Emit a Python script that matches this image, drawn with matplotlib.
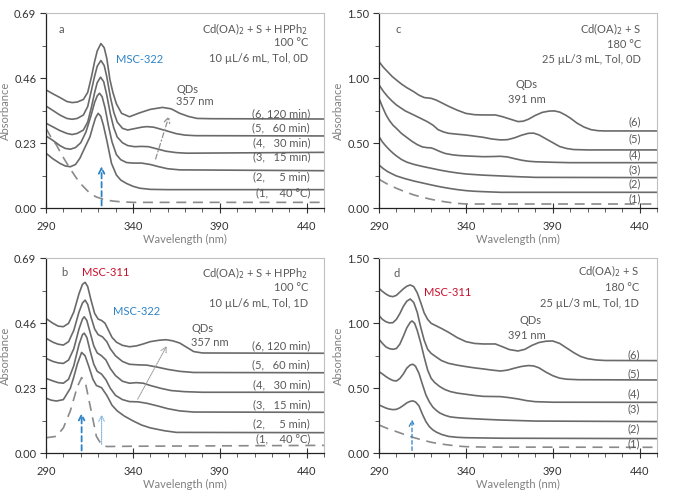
import matplotlib
matplotlib.use("Agg")
import matplotlib.pyplot as plt
from matplotlib.ticker import MultipleLocator, FixedLocator

plt.rcParams['font.family'] = ['Lato', 'DejaVu Sans']

# ---------------- data: panel a ----------------
a1_x = [290, 293, 296, 299, 302, 305, 307.6, 311, 315.3, 319, 323, 328, 333, 340, 450]
a1_y = [0.283, 0.25, 0.224, 0.19, 0.159, 0.13, 0.106, 0.08, 0.053, 0.04, 0.032, 0.026, 0.023, 0.021, 0.021]
a2_x = [290, 294, 298, 301, 304, 307, 309.5, 312, 315.3, 317, 318.5, 320, 321.5, 323, 325, 327.7, 330.5, 333, 336.3, 340, 344, 350, 360, 450]
a2_y = [0.195, 0.175, 0.159, 0.15, 0.147, 0.155, 0.177, 0.21, 0.253, 0.29, 0.32, 0.336, 0.326, 0.295, 0.24, 0.159, 0.118, 0.1, 0.088, 0.078, 0.071, 0.067, 0.066, 0.066]
a3_x = [290, 294, 298, 301, 304, 307, 310, 313, 316, 318, 319.5, 320.8, 322.3, 324, 326, 328, 330.5, 333, 336.3, 340, 345, 350, 355, 360, 367, 450]
a3_y = [0.256, 0.24, 0.222, 0.212, 0.209, 0.215, 0.232, 0.27, 0.33, 0.375, 0.398, 0.407, 0.395, 0.355, 0.29, 0.235, 0.19, 0.172, 0.162, 0.16, 0.16, 0.155, 0.147, 0.14, 0.136, 0.133]
a4_x = [290, 294, 298, 302, 305, 308, 311.5, 314, 316.2, 318, 319.5, 321.4, 323.2, 325, 327, 329, 331, 334, 337, 341, 345, 349, 354, 359, 365, 371, 450]
a4_y = [0.301, 0.288, 0.275, 0.265, 0.261, 0.265, 0.277, 0.305, 0.359, 0.41, 0.445, 0.464, 0.448, 0.40, 0.335, 0.285, 0.252, 0.232, 0.222, 0.218, 0.219, 0.218, 0.21, 0.202, 0.197, 0.195, 0.198]
a5_x = [290, 294, 298, 302, 305, 308, 311.5, 314, 316.2, 318, 319.5, 321.6, 323.5, 325, 327, 329, 331, 334, 337, 341, 345, 348, 352, 356, 360, 365, 370, 376, 450]
a5_y = [0.362, 0.346, 0.330, 0.318, 0.315, 0.318, 0.33, 0.36, 0.419, 0.468, 0.503, 0.523, 0.505, 0.465, 0.395, 0.34, 0.305, 0.283, 0.277, 0.282, 0.287, 0.289, 0.287, 0.280, 0.273, 0.264, 0.259, 0.257, 0.256]
a6_x = [290, 294, 298, 302, 305, 308, 311.5, 314, 316.2, 318, 319.5, 321.6, 323.5, 325, 326.8, 328.5, 330.5, 333.5, 338, 344, 350, 357, 362, 367, 372, 377, 385, 450]
a6_y = [0.419, 0.405, 0.392, 0.378, 0.374, 0.376, 0.385, 0.41, 0.466, 0.52, 0.557, 0.583, 0.568, 0.53, 0.455, 0.41, 0.37, 0.336, 0.324, 0.338, 0.35, 0.357, 0.352, 0.336, 0.325, 0.318, 0.317, 0.316]

# ---------------- data: panel b ----------------
b1_x = [290, 296, 300, 304, 308, 310.5, 313, 316, 319, 322, 325, 340, 450]
b1_y = [0.055, 0.06, 0.09, 0.15, 0.235, 0.268, 0.24, 0.15, 0.06, 0.03, 0.024, 0.025, 0.028]
b2_x = [290, 293, 296, 300, 304, 306, 308, 310.5, 312.5, 314.5, 317, 319, 322, 325, 328, 331, 335, 340, 345, 350, 358, 365, 450]
b2_y = [0.195, 0.188, 0.185, 0.19, 0.23, 0.27, 0.315, 0.357, 0.345, 0.31, 0.262, 0.24, 0.232, 0.205, 0.17, 0.15, 0.132, 0.115, 0.1, 0.09, 0.08, 0.074, 0.073]
b3_x = [290, 294, 297, 300, 303, 306, 309, 311, 312, 313.5, 315.5, 317.5, 319.5, 322, 324.5, 327, 330, 334, 338, 343, 348, 354, 360, 367, 375, 450]
b3_y = [0.265, 0.256, 0.25, 0.248, 0.262, 0.31, 0.385, 0.42, 0.425, 0.41, 0.36, 0.315, 0.29, 0.28, 0.26, 0.23, 0.205, 0.19, 0.183, 0.182, 0.177, 0.168, 0.158, 0.15, 0.146, 0.145]
b4_x = [290, 294, 297, 300, 303, 306, 309, 311, 312, 313.5, 315.5, 317.5, 319.5, 322, 324.5, 327, 330, 334, 338, 342, 346, 350, 356, 362, 370, 380, 450]
b4_y = [0.336, 0.325, 0.32, 0.318, 0.33, 0.37, 0.44, 0.475, 0.483, 0.47, 0.425, 0.38, 0.355, 0.345, 0.33, 0.30, 0.275, 0.255, 0.248, 0.25, 0.248, 0.24, 0.23, 0.222, 0.218, 0.216, 0.216]
b5_x = [290, 294, 297, 300, 303, 306, 309, 311, 312.5, 314, 316, 318, 320, 322.5, 325, 327, 330, 334, 338, 343, 348, 354, 360, 367, 375, 450]
b5_y = [0.407, 0.393, 0.386, 0.383, 0.395, 0.435, 0.50, 0.532, 0.542, 0.527, 0.48, 0.44, 0.42, 0.412, 0.395, 0.37, 0.345, 0.325, 0.315, 0.313, 0.312, 0.305, 0.297, 0.29, 0.286, 0.285]
b6_x = [290, 294, 297, 300, 303, 306, 309, 311, 312.5, 314, 316, 318, 320, 322, 324, 326, 328, 330.6, 334, 338, 342, 346, 350, 355, 359, 363, 367, 371, 375, 380, 450]
b6_y = [0.477, 0.46, 0.45, 0.448, 0.46, 0.50, 0.565, 0.598, 0.605, 0.59, 0.54, 0.495, 0.475, 0.47, 0.46, 0.435, 0.41, 0.393, 0.382, 0.377, 0.38, 0.387, 0.395, 0.40, 0.402, 0.398, 0.39, 0.375, 0.36, 0.355, 0.354]

# ---------------- data: panel c ----------------
c1_x = [290, 295, 300, 305, 310, 315, 320, 325, 330, 335, 340, 450]
c1_y = [0.223, 0.185, 0.154, 0.127, 0.103, 0.085, 0.069, 0.056, 0.046, 0.038, 0.033, 0.033]
c2_x = [290, 292.5, 295, 297.5, 300, 305, 310, 315, 320, 325, 330, 335, 340, 345, 350, 360, 450]
c2_y = [0.333, 0.305, 0.282, 0.265, 0.249, 0.228, 0.21, 0.195, 0.18, 0.166, 0.154, 0.144, 0.136, 0.131, 0.128, 0.123, 0.123]
c3_x = [290, 292, 294, 296, 298, 300, 303, 306, 310, 315, 320, 325, 330, 335, 340, 350, 360, 370, 380, 450]
c3_y = [0.551, 0.51, 0.478, 0.45, 0.425, 0.403, 0.375, 0.355, 0.338, 0.322, 0.308, 0.294, 0.282, 0.272, 0.264, 0.255, 0.249, 0.243, 0.238, 0.236]
c4_x = [290, 292, 294, 296, 298, 300, 303, 306, 309, 312, 315, 318, 320, 322, 325, 328, 332, 336, 340, 345, 350, 355, 360, 364, 368, 372, 376, 380, 390, 400, 450]
c4_y = [0.846, 0.78, 0.72, 0.675, 0.64, 0.615, 0.575, 0.545, 0.515, 0.49, 0.472, 0.466, 0.465, 0.455, 0.437, 0.422, 0.412, 0.406, 0.403, 0.4, 0.397, 0.398, 0.4, 0.395, 0.382, 0.37, 0.362, 0.358, 0.354, 0.351, 0.351]
c5_x = [290, 292.5, 295, 297.5, 300, 305, 310, 315, 318, 321, 324, 327, 330, 335, 340, 345, 350, 355, 360, 364, 368, 372, 376, 379, 382, 386, 390, 394, 398, 402, 410, 450]
c5_y = [0.949, 0.9, 0.859, 0.825, 0.795, 0.75, 0.718, 0.685, 0.665, 0.64, 0.605, 0.588, 0.577, 0.57, 0.564, 0.555, 0.546, 0.533, 0.526, 0.528, 0.542, 0.562, 0.577, 0.578, 0.565, 0.535, 0.505, 0.475, 0.46, 0.452, 0.449, 0.449]
c6_x = [290, 292.5, 295, 297.5, 300, 303, 306, 310, 313, 316, 320, 323, 326, 330, 335, 340, 345, 350, 357, 361, 365, 370, 373, 376, 380, 384, 388, 391, 394, 397, 400, 404, 408, 412, 416, 420, 450]
c6_y = [1.128, 1.085, 1.05, 1.015, 0.987, 0.955, 0.928, 0.897, 0.87, 0.852, 0.846, 0.832, 0.812, 0.785, 0.755, 0.73, 0.72, 0.718, 0.718, 0.705, 0.688, 0.667, 0.67, 0.685, 0.715, 0.738, 0.748, 0.749, 0.74, 0.72, 0.695, 0.655, 0.625, 0.605, 0.597, 0.595, 0.595]

# ---------------- data: panel d ----------------
d1_x = [290, 295, 300, 305, 310, 315, 320, 325, 330, 335, 340, 350, 450]
d1_y = [0.218, 0.19, 0.167, 0.143, 0.121, 0.102, 0.085, 0.073, 0.064, 0.056, 0.051, 0.048, 0.046]
d2_x = [290, 292, 294, 296, 298, 300, 302, 304, 306, 308, 309.5, 311, 313, 315, 317, 319, 321, 323, 326, 330, 335, 340, 360, 450]
d2_y = [0.372, 0.36, 0.348, 0.34, 0.336, 0.338, 0.35, 0.368, 0.388, 0.4, 0.403, 0.395, 0.365, 0.3, 0.244, 0.205, 0.18, 0.163, 0.145, 0.13, 0.123, 0.12, 0.116, 0.113]
d3_x = [290, 292, 294, 296, 298, 300, 302, 304, 306, 308, 309.5, 311, 313, 315, 317, 319, 321, 323, 325, 328, 331, 335, 340, 350, 360, 380, 450]
d3_y = [0.628, 0.61, 0.59, 0.573, 0.56, 0.556, 0.575, 0.61, 0.655, 0.68, 0.685, 0.67, 0.615, 0.53, 0.449, 0.395, 0.355, 0.33, 0.31, 0.292, 0.28, 0.274, 0.269, 0.262, 0.256, 0.248, 0.244]
d4_x = [290, 292, 294, 296, 298, 300, 302, 304, 306, 308, 309, 310.5, 312, 314, 316, 318, 320, 322, 325, 328, 331, 335, 340, 345, 350, 355, 360, 365, 370, 375, 380, 390, 450]
d4_y = [0.877, 0.845, 0.818, 0.805, 0.8, 0.806, 0.84, 0.9, 0.965, 1.008, 1.018, 1.0, 0.945, 0.85, 0.74, 0.64, 0.577, 0.545, 0.513, 0.49, 0.475, 0.463, 0.454, 0.445, 0.438, 0.437, 0.436, 0.428, 0.418, 0.405, 0.397, 0.393, 0.392]
d5_x = [290, 292, 294, 296, 298, 300, 302, 304, 306, 308, 310, 312, 314, 316, 318, 320, 323, 326, 330, 335, 340, 345, 350, 355, 360, 364, 368, 372, 376, 379, 382, 386, 390, 394, 398, 405, 450]
d5_y = [1.059, 1.03, 1.012, 1.003, 1.005, 1.03, 1.075, 1.13, 1.17, 1.187, 1.16, 1.085, 0.97, 0.87, 0.8, 0.769, 0.74, 0.713, 0.692, 0.678, 0.667, 0.657, 0.649, 0.64, 0.633, 0.64, 0.655, 0.668, 0.675, 0.672, 0.658, 0.625, 0.597, 0.578, 0.57, 0.566, 0.564]
d6_x = [290, 292, 294, 296, 298, 300, 302, 304, 306, 308, 310, 312, 314, 316, 318, 320, 323, 326, 330, 335, 340, 345, 350, 357, 361, 365, 370, 374, 378, 382, 386, 390, 394, 398, 402, 406, 410, 415, 420, 450]
d6_y = [1.269, 1.245, 1.225, 1.21, 1.205, 1.215, 1.24, 1.265, 1.285, 1.295, 1.282, 1.235, 1.16, 1.08, 1.03, 1.0, 0.98, 0.96, 0.931, 0.89, 0.859, 0.845, 0.841, 0.841, 0.82, 0.798, 0.787, 0.8, 0.83, 0.852, 0.862, 0.864, 0.845, 0.81, 0.775, 0.745, 0.728, 0.718, 0.714, 0.713]

# ---------------- text / ticks ----------------
x_ticks = [290, 340, 390, 440]
y_ticks_ab = [0.00, 0.23, 0.46, 0.69]
y_ticks_cd = [0.00, 0.50, 1.00, 1.50]
labels_ab = ['(6, 120 min)', '(5,   60 min)', '(4,   30 min)', '(3,   15 min)', '(2,     5 min)', '(1,    40 °C)']
labels_cd = ['(6)', '(5)', '(4)', '(3)', '(2)', '(1)']

LINE = '#6a6a6a'
DASH = '#8a8a8a'
TXT = '#595959'
BLUE = '#2e83c6'
RED = '#c8102e'
FS = 8

fig = plt.figure(figsize=(6.73, 4.94), dpi=100)
W, H = 673, 494

def make_ax(l, r, t, b):
    return fig.add_axes([l / W, 1 - b / H, (r - l) / W, (b - t) / H])

ax_a = make_ax(46, 324, 13.3, 208.3)
ax_c = make_ax(379, 657, 13.3, 208.3)
ax_b = make_ax(46, 324, 258.3, 453.3)
ax_d = make_ax(379, 657, 258.3, 453.3)

def style(ax, yt, ylim):
    ax.set_xlim(290, 450)
    ax.set_ylim(*ylim)
    ax.set_xticks(x_ticks)
    ax.xaxis.set_minor_locator(MultipleLocator(10))
    ax.set_yticks(yt)
    ax.set_yticklabels(['%.2f' % v for v in yt])
    step = yt[1] - yt[0]
    ax.yaxis.set_minor_locator(FixedLocator([v + step / 2 for v in yt[:-1]]))
    ax.tick_params(axis='x', which='major', direction='inout', length=7, width=0.8,
                   colors='#333333', labelsize=8, pad=6)
    ax.tick_params(axis='x', which='minor', direction='out', length=3, width=0.6, colors='#444444')
    ax.tick_params(axis='y', which='major', direction='out', length=4, width=0.8,
                   colors='#333333', labelsize=8, pad=3)
    ax.tick_params(axis='y', which='minor', direction='out', length=3, width=0.6, colors='#444444')
    for s in ['top', 'right']:
        ax.spines[s].set_color('#c0c0c0')
        ax.spines[s].set_linewidth(0.8)
    for s in ['left', 'bottom']:
        ax.spines[s].set_color('#222222')
        ax.spines[s].set_linewidth(0.9)
    ax.set_xlabel('Wavelength (nm)', color='#808080', fontsize=8, labelpad=1)
    ax.set_ylabel('Absorbance', color='#808080', fontsize=8, labelpad=2)

def curves(ax, xs, ys):
    for i, (x, y) in enumerate(zip(xs, ys)):
        if i == 0:
            ax.plot(x, y, color=DASH, lw=1.2, ls=(0, (6, 4)))
        else:
            ax.plot(x, y, color=LINE, lw=1.2, solid_joinstyle='round')

# panel a
style(ax_a, y_ticks_ab, (0, 0.69))
curves(ax_a, [a1_x, a2_x, a3_x, a4_x, a5_x, a6_x], [a1_y, a2_y, a3_y, a4_y, a5_y, a6_y])
ax_a.text(299, 0.633, 'a', color=TXT, fontsize=FS, va='center', ha='center')
ax_a.text(441, 0.633, 'Cd(OA)$_2$ + S + HPPh$_2$', color=TXT, fontsize=FS, ha='right', va='center')
ax_a.text(441, 0.586, '100 °C', color=TXT, fontsize=FS, ha='right', va='center')
ax_a.text(441, 0.530, '10 µL/6 mL, Tol, 0D', color=TXT, fontsize=FS, ha='right', va='center')
ax_a.text(330.5, 0.527, 'MSC-322', color=BLUE, fontsize=FS, ha='left', va='center')
ax_a.text(365, 0.421, 'QDs', color=TXT, fontsize=FS, ha='left', va='center')
ax_a.text(365, 0.377, '357 nm', color=TXT, fontsize=FS, ha='left', va='center')
for lab, yv in zip(labels_ab, [0.336, 0.284, 0.232, 0.182, 0.112, 0.055]):
    ax_a.text(442, yv, lab, color=TXT, fontsize=FS, ha='right', va='center')
ax_a.annotate('', xy=(322, 0.159), xytext=(322, 0.0),
              arrowprops=dict(arrowstyle='->', color=BLUE, lw=1.3, ls=(0, (3, 2))))
ax_a.annotate('', xy=(361.3, 0.336), xytext=(352.6, 0.165),
              arrowprops=dict(arrowstyle='->', color='#909090', lw=0.9, ls=(0, (4, 2, 1, 2))))

# panel b
style(ax_b, y_ticks_ab, (0, 0.69))
curves(ax_b, [b1_x, b2_x, b3_x, b4_x, b5_x, b6_x], [b1_y, b2_y, b3_y, b4_y, b5_y, b6_y])
ax_b.text(300.3, 0.64, 'b', color=TXT, fontsize=FS, va='center', ha='center')
ax_b.text(311, 0.64, 'MSC-311', color=RED, fontsize=FS, ha='left', va='center')
ax_b.text(328.7, 0.503, 'MSC-322', color=BLUE, fontsize=FS, ha='left', va='center')
ax_b.text(441, 0.638, 'Cd(OA)$_2$ + S + HPPh$_2$', color=TXT, fontsize=FS, ha='right', va='center')
ax_b.text(441, 0.586, '100 °C', color=TXT, fontsize=FS, ha='right', va='center')
ax_b.text(441, 0.530, '10 µL/6 mL, Tol, 1D', color=TXT, fontsize=FS, ha='right', va='center')
ax_b.text(373.7, 0.442, 'QDs', color=TXT, fontsize=FS, ha='left', va='center')
ax_b.text(373.7, 0.391, '357 nm', color=TXT, fontsize=FS, ha='left', va='center')
for lab, yv in zip(labels_ab, [0.380, 0.312, 0.244, 0.173, 0.103, 0.053]):
    ax_b.text(442, yv, lab, color=TXT, fontsize=FS, ha='right', va='center')
ax_b.annotate('', xy=(310.5, 0.153), xytext=(310.5, 0.0),
              arrowprops=dict(arrowstyle='->', color=BLUE, lw=1.3, ls=(0, (3, 2))))
ax_b.annotate('', xy=(322, 0.147), xytext=(322, 0.022),
              arrowprops=dict(arrowstyle='->', color='#7fb3e0', lw=0.8, ls=(0, (1, 1))))
ax_b.annotate('', xy=(360.3, 0.389), xytext=(342, 0.183),
              arrowprops=dict(arrowstyle='->', color='#a0a0a0', lw=0.8, ls=(0, (1, 1))))

# panel c
style(ax_c, y_ticks_cd, (0, 1.5))
curves(ax_c, [c1_x, c2_x, c3_x, c4_x, c5_x, c6_x], [c1_y, c2_y, c3_y, c4_y, c5_y, c6_y])
ax_c.text(301, 1.377, 'c', color=TXT, fontsize=FS, va='center', ha='center')
ax_c.text(441, 1.377, 'Cd(OA)$_2$ + S', color=TXT, fontsize=FS, ha='right', va='center')
ax_c.text(441, 1.26, '180 °C', color=TXT, fontsize=FS, ha='right', va='center')
ax_c.text(441, 1.141, '25 µL/3 mL, Tol, 0D', color=TXT, fontsize=FS, ha='right', va='center')
ax_c.text(375, 0.949, 'QDs', color=TXT, fontsize=FS, ha='center', va='center')
ax_c.text(375, 0.838, '391 nm', color=TXT, fontsize=FS, ha='center', va='center')
for lab, yv in zip(labels_cd, [0.667, 0.531, 0.41, 0.30, 0.185, 0.072]):
    ax_c.text(441, yv, lab, color=TXT, fontsize=FS, ha='right', va='center')

# panel d
style(ax_d, y_ticks_cd, (0, 1.5))
curves(ax_d, [d1_x, d2_x, d3_x, d4_x, d5_x, d6_x], [d1_y, d2_y, d3_y, d4_y, d5_y, d6_y])
ax_d.text(300.3, 1.385, 'd', color=TXT, fontsize=FS, va='center', ha='center')
ax_d.text(315.7, 1.238, 'MSC-311', color=RED, fontsize=FS, ha='left', va='center')
ax_d.text(439.5, 1.397, 'Cd(OA)$_2$ + S', color=TXT, fontsize=FS, ha='right', va='center')
ax_d.text(439.5, 1.274, '180 °C', color=TXT, fontsize=FS, ha='right', va='center')
ax_d.text(439.5, 1.154, '25 µL/3 mL, Tol, 1D', color=TXT, fontsize=FS, ha='right', va='center')
ax_d.text(377, 1.018, 'QDs', color=TXT, fontsize=FS, ha='center', va='center')
ax_d.text(375, 0.905, '391 nm', color=TXT, fontsize=FS, ha='center', va='center')
for lab, yv in zip(labels_cd, [0.761, 0.608, 0.454, 0.341, 0.192, 0.072]):
    ax_d.text(440, yv, lab, color=TXT, fontsize=FS, ha='right', va='center')
ax_d.annotate('', xy=(309, 0.282), xytext=(309, 0.0),
              arrowprops=dict(arrowstyle='->', color=BLUE, lw=0.9, ls=(0, (3, 2))))

fig.savefig('out.png', dpi=100)
